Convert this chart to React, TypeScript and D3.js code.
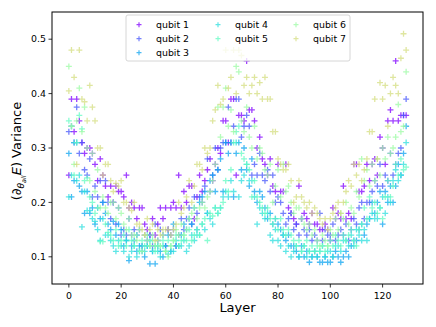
import React from 'react';
import * as d3 from 'd3';

// layer index 0..129
const layers = d3.range(130);

const qubit1 = [
  0.25, 0.39, 0.33, 0.39, 0.35, 0.31, 0.29, 0.30, 0.30, 0.29,
  0.27, 0.24, 0.28, 0.25, 0.23, 0.21, 0.23, 0.20, 0.23, 0.22,
  0.22, 0.21, 0.25, 0.19, 0.20, 0.19, 0.17, 0.19, 0.19, 0.16,
  0.15, 0.14, 0.17, 0.14, 0.16, 0.19, 0.17, 0.19, 0.15, 0.19,
  0.20, 0.19, 0.25, 0.19, 0.22, 0.20, 0.23, 0.23, 0.17, 0.21,
  0.25, 0.22, 0.24, 0.26, 0.28, 0.24, 0.27, 0.30, 0.29, 0.35,
  0.35, 0.31, 0.39, 0.39, 0.25, 0.36, 0.36, 0.35, 0.46, 0.37,
  0.37, 0.35, 0.30, 0.32, 0.28, 0.27, 0.25, 0.28, 0.23, 0.22,
  0.27, 0.22, 0.22, 0.27, 0.19, 0.18, 0.17, 0.16, 0.23, 0.17,
  0.18, 0.17, 0.16, 0.18, 0.16, 0.16, 0.15, 0.15, 0.16, 0.15,
  0.13, 0.19, 0.17, 0.18, 0.17, 0.23, 0.17, 0.18, 0.17, 0.27,
  0.27, 0.22, 0.22, 0.23, 0.27, 0.24, 0.27, 0.28, 0.25, 0.32,
  0.30, 0.27, 0.35, 0.37, 0.35, 0.46, 0.35, 0.36, 0.36, 0.36,
];

const qubit2 = [
  0.33, 0.34, 0.31, 0.375, 0.29, 0.31, 0.26, 0.25, 0.28, 0.21,
  0.23, 0.21, 0.24, 0.20, 0.24, 0.20, 0.17, 0.20, 0.16, 0.19,
  0.14, 0.15, 0.14, 0.17, 0.14, 0.15, 0.14, 0.15, 0.12, 0.14,
  0.13, 0.14, 0.12, 0.16, 0.13, 0.15, 0.14, 0.12, 0.15, 0.14,
  0.15, 0.12, 0.14, 0.17, 0.15, 0.17, 0.19, 0.16, 0.21, 0.18,
  0.21, 0.20, 0.23, 0.28, 0.22, 0.25, 0.30, 0.26, 0.30, 0.31,
  0.31, 0.375, 0.31, 0.34, 0.39, 0.39, 0.32, 0.34, 0.36, 0.34,
  0.25, 0.27, 0.25, 0.29, 0.25, 0.24, 0.26, 0.22, 0.25, 0.20,
  0.21, 0.20, 0.18, 0.16, 0.17, 0.18, 0.15, 0.16, 0.14, 0.17,
  0.15, 0.14, 0.15, 0.13, 0.14, 0.13, 0.18, 0.13, 0.15, 0.14,
  0.14, 0.16, 0.13, 0.14, 0.15, 0.14, 0.16, 0.13, 0.15, 0.17,
  0.16, 0.19, 0.20, 0.17, 0.20, 0.20, 0.22, 0.24, 0.23, 0.27,
  0.23, 0.25, 0.24, 0.29, 0.25, 0.27, 0.29, 0.30, 0.36, 0.39,
];

const qubit3 = [
  0.29, 0.21, 0.24, 0.31, 0.23, 0.22, 0.18, 0.22, 0.18, 0.19,
  0.16, 0.19, 0.17, 0.20, 0.18, 0.16, 0.15, 0.165, 0.14, 0.16,
  0.15, 0.12, 0.13, 0.093, 0.12, 0.13, 0.11, 0.12, 0.11, 0.10,
  0.12, 0.087, 0.11, 0.087, 0.12, 0.11, 0.10, 0.12, 0.14, 0.11,
  0.16, 0.12, 0.12, 0.14, 0.16, 0.15, 0.17, 0.16, 0.19, 0.15,
  0.20, 0.21, 0.22, 0.18, 0.24, 0.25, 0.22, 0.26, 0.28, 0.22,
  0.31, 0.29, 0.31, 0.21, 0.29, 0.31, 0.26, 0.30, 0.26, 0.23,
  0.28, 0.22, 0.20, 0.22, 0.21, 0.19, 0.17, 0.18, 0.16, 0.17,
  0.16, 0.15, 0.14, 0.13, 0.14, 0.12, 0.12, 0.11, 0.10, 0.12,
  0.10, 0.11, 0.09, 0.10, 0.11, 0.10, 0.09, 0.09, 0.10, 0.09,
  0.09, 0.10, 0.11, 0.10, 0.09, 0.10, 0.11, 0.10, 0.12, 0.13,
  0.13, 0.15, 0.16, 0.14, 0.16, 0.17, 0.20, 0.18, 0.20, 0.22,
  0.16, 0.22, 0.20, 0.23, 0.20, 0.23, 0.27, 0.25, 0.29, 0.34,
];

const qubit4 = [
  0.21, 0.25, 0.31, 0.24, 0.25, 0.155, 0.22, 0.185, 0.185, 0.17,
  0.165, 0.15, 0.13, 0.17, 0.14, 0.14, 0.13, 0.12, 0.11, 0.13,
  0.12, 0.11, 0.13, 0.10, 0.11, 0.12, 0.10, 0.11, 0.12, 0.11,
  0.12, 0.13, 0.11, 0.12, 0.11, 0.10, 0.12, 0.11, 0.105, 0.11,
  0.11, 0.13, 0.12, 0.12, 0.13, 0.11, 0.12, 0.14, 0.13, 0.14,
  0.14, 0.16, 0.15, 0.18, 0.17, 0.16, 0.19, 0.18, 0.19, 0.21,
  0.22, 0.21, 0.24, 0.22, 0.31, 0.21, 0.24, 0.25, 0.27, 0.24,
  0.24, 0.21, 0.16, 0.19, 0.18, 0.17, 0.18, 0.14, 0.13, 0.15,
  0.13, 0.12, 0.14, 0.11, 0.12, 0.10, 0.11, 0.12, 0.10, 0.11,
  0.12, 0.10, 0.11, 0.10, 0.11, 0.10, 0.11, 0.12, 0.10, 0.11,
  0.11, 0.10, 0.12, 0.12, 0.11, 0.13, 0.13, 0.12, 0.14, 0.12,
  0.15, 0.14, 0.13, 0.15, 0.13, 0.17, 0.18, 0.17, 0.17, 0.19,
  0.21, 0.18, 0.21, 0.20, 0.24, 0.26, 0.24, 0.25, 0.27, 0.31,
];

const qubit5 = [
  0.35, 0.34, 0.25, 0.31, 0.36, 0.335, 0.24, 0.245, 0.21, 0.20,
  0.18, 0.19, 0.128, 0.128, 0.16, 0.145, 0.14, 0.13, 0.15, 0.12,
  0.13, 0.14, 0.12, 0.15, 0.13, 0.12, 0.14, 0.11, 0.13, 0.12,
  0.14, 0.12, 0.13, 0.11, 0.12, 0.12, 0.13, 0.11, 0.13, 0.12,
  0.13, 0.14, 0.12, 0.13, 0.14, 0.13, 0.15, 0.13, 0.14, 0.15,
  0.14, 0.16, 0.17, 0.13, 0.18, 0.175, 0.19, 0.18, 0.19, 0.20,
  0.24, 0.22, 0.26, 0.31, 0.33, 0.34, 0.29, 0.28, 0.27, 0.26,
  0.21, 0.24, 0.21, 0.20, 0.19, 0.18, 0.19, 0.17, 0.16, 0.17,
  0.15, 0.17, 0.15, 0.14, 0.15, 0.14, 0.13, 0.12, 0.13, 0.11,
  0.12, 0.13, 0.11, 0.12, 0.11, 0.12, 0.11, 0.12, 0.11, 0.12,
  0.13, 0.12, 0.14, 0.13, 0.12, 0.14, 0.13, 0.14, 0.15, 0.13,
  0.12, 0.15, 0.16, 0.19, 0.17, 0.21, 0.19, 0.20, 0.18, 0.19,
  0.17, 0.21, 0.24, 0.21, 0.23, 0.27, 0.25, 0.28, 0.26, 0.265,
];

const qubit6 = [
  0.45, 0.34, 0.27, 0.35, 0.41, 0.33, 0.375, 0.30, 0.24, 0.29,
  0.22, 0.26, 0.19, 0.21, 0.19, 0.18, 0.20, 0.20, 0.17, 0.19,
  0.18, 0.16, 0.15, 0.17, 0.14, 0.14, 0.13, 0.15, 0.11, 0.14,
  0.13, 0.12, 0.14, 0.12, 0.13, 0.12, 0.14, 0.11, 0.10, 0.12,
  0.13, 0.15, 0.14, 0.16, 0.14, 0.15, 0.17, 0.18, 0.19, 0.17,
  0.19, 0.20, 0.19, 0.21, 0.22, 0.24, 0.27, 0.375, 0.32, 0.375,
  0.41, 0.34, 0.37, 0.33, 0.45, 0.44, 0.35, 0.33, 0.375, 0.32,
  0.30, 0.34, 0.28, 0.30, 0.29, 0.26, 0.25, 0.27, 0.20, 0.23,
  0.26, 0.21, 0.27, 0.22, 0.23, 0.20, 0.18, 0.19, 0.19, 0.17,
  0.16, 0.15, 0.16, 0.14, 0.15, 0.13, 0.12, 0.14, 0.13, 0.12,
  0.15, 0.14, 0.17, 0.15, 0.18, 0.17, 0.20, 0.16, 0.19, 0.18,
  0.22, 0.21, 0.28, 0.24, 0.26, 0.23, 0.27, 0.24, 0.28, 0.25,
  0.30, 0.28, 0.32, 0.29, 0.30, 0.32, 0.38, 0.33, 0.34, 0.44,
];

const qubit7 = [
  0.405, 0.48, 0.43, 0.27, 0.48, 0.39, 0.385, 0.35, 0.415, 0.375,
  0.35, 0.30, 0.30, 0.25, 0.27, 0.27, 0.24, 0.22, 0.235, 0.23,
  0.24, 0.20, 0.20, 0.19, 0.185, 0.20, 0.16, 0.16, 0.15, 0.14,
  0.17, 0.15, 0.16, 0.13, 0.15, 0.14, 0.15, 0.15, 0.15, 0.14,
  0.15, 0.16, 0.20, 0.18, 0.19, 0.21, 0.24, 0.20, 0.23, 0.27,
  0.27, 0.26, 0.30, 0.29, 0.30, 0.35, 0.37, 0.415, 0.38, 0.39,
  0.48, 0.41, 0.43, 0.48, 0.40, 0.48, 0.47, 0.415, 0.43, 0.40,
  0.415, 0.43, 0.40, 0.42, 0.39, 0.43, 0.39, 0.39, 0.33, 0.33,
  0.28, 0.27, 0.26, 0.26, 0.27, 0.24, 0.20, 0.21, 0.24, 0.21,
  0.20, 0.19, 0.20, 0.18, 0.19, 0.18, 0.17, 0.16, 0.17, 0.15,
  0.17, 0.18, 0.19, 0.20, 0.18, 0.20, 0.22, 0.24, 0.23, 0.27,
  0.25, 0.27, 0.24, 0.26, 0.28, 0.33, 0.33, 0.39, 0.28, 0.42,
  0.39, 0.415, 0.34, 0.40, 0.43, 0.415, 0.40, 0.465, 0.51, 0.48,
];

const seriesNames = ['qubit 1', 'qubit 2', 'qubit 3', 'qubit 4', 'qubit 5', 'qubit 6', 'qubit 7'];
const seriesValues = [qubit1, qubit2, qubit3, qubit4, qubit5, qubit6, qubit7];
const seriesColors = ['#8000ff', '#4757fb', '#0ea4f0', '#2bdddd', '#63fbc3', '#9cfba4', '#d4dd80'];

// legend column of each entry (3 + 2 + 2, filled column-wise)
const legendColumn = [0, 0, 0, 1, 1, 2, 2];
const legendRow = [0, 1, 2, 0, 1, 0, 1];

const xTicks = [0, 20, 40, 60, 80, 100, 120];
const yTicks = [0.1, 0.2, 0.3, 0.4, 0.5];

const font = 'DejaVu Sans, sans-serif';

const plus = (cx: number, cy: number, r: number) =>
  `M${cx - r},${cy}h${2 * r}M${cx},${cy - r}v${2 * r}`;

export default function App() {
  const width = 436;
  const height = 327;
  const margin = { top: 12, right: 13, bottom: 43, left: 52 };

  const x = d3.scaleLinear().domain([-6.45, 135.45]).range([margin.left, width - margin.right]);
  const y = d3.scaleLinear().domain([0.05, 0.55]).range([height - margin.bottom, margin.top]);

  const x0 = margin.left, x1 = width - margin.right;
  const y0 = height - margin.bottom, y1 = margin.top;

  const legendCols = [139, 218, 296];
  const legendRows = [24.7, 38.7, 52.7];

  return (
    <svg width={width} height={height} style={{ position: 'absolute', left: 0, top: 0 }} fontFamily={font}>
      <rect width={width} height={height} fill="#fff" />

      {/* points */}
      {seriesValues.map((vals, s) => (
        <path
          key={s}
          d={layers.map((l) => plus(x(l), y(vals[l]), 3)).join('')}
          stroke={seriesColors[s]}
          strokeWidth={1.3}
          strokeOpacity={0.75}
          fill="none"
        />
      ))}

      {/* frame */}
      <rect x={x0} y={y1} width={x1 - x0} height={y0 - y1} fill="none" stroke="#000" strokeWidth={1} />

      {/* x axis */}
      {xTicks.map((t) => (
        <g key={t} transform={`translate(${x(t)},${y0})`}>
          <line y2={3.5} stroke="#000" strokeWidth={0.8} />
          <text y={15} textAnchor="middle" fontSize={9.4} fill="#000">{t}</text>
        </g>
      ))}
      <text x={(x0 + x1) / 2} y={312} textAnchor="middle" fontSize={13} fill="#000">Layer</text>

      {/* y axis */}
      {yTicks.map((t) => (
        <g key={t} transform={`translate(${x0},${y(t)})`}>
          <line x2={-3.5} stroke="#000" strokeWidth={0.8} />
          <text x={-6} dy="0.35em" textAnchor="end" fontSize={9.4} fill="#000">{d3.format('.1f')(t)}</text>
        </g>
      ))}
      <text transform="translate(21,151) rotate(-90)" textAnchor="middle" fontSize={13} fill="#000">
        <tspan>(∂</tspan>
        <tspan fontStyle="italic" fontSize={9} dy={3}>θ</tspan>
        <tspan fontStyle="italic" fontSize={6.5} dy={2}>all</tspan>
        <tspan fontStyle="italic" fontSize={13} dy={-5}>E</tspan>
        <tspan>) Variance</tspan>
      </text>

      {/* legend */}
      <rect x={126} y={15} width={224} height={46} rx={2} fill="#fff" fillOpacity={0.8} stroke="#ccc" strokeWidth={0.8} />
      {seriesNames.map((name, i) => {
        const lx = legendCols[legendColumn[i]];
        const ly = legendRows[legendRow[i]];
        return (
          <g key={name}>
            <path d={plus(lx, ly, 2.5)} stroke={seriesColors[i]} strokeWidth={1.2} strokeOpacity={0.75} fill="none" />
            <text x={lx + 17} y={ly} dy="0.35em" fontSize={9.4} fill="#000">{name}</text>
          </g>
        );
      })}
    </svg>
  );
}
